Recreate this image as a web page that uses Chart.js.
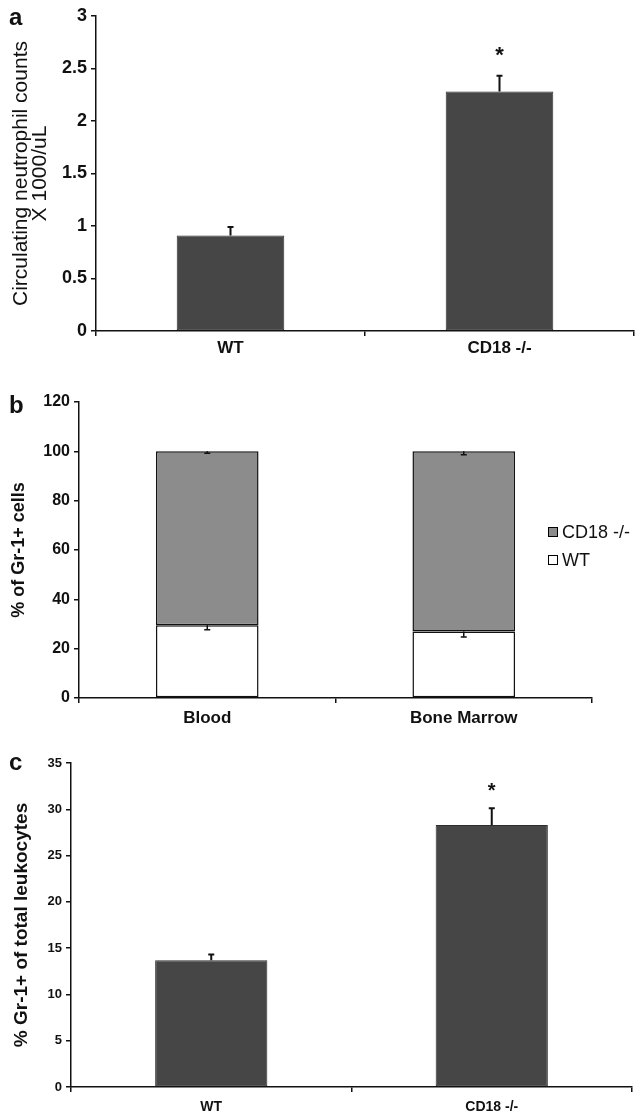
<!DOCTYPE html>
<html><head><meta charset="utf-8">
<script src="https://cdn.jsdelivr.net/npm/chart.js@4.4.1/dist/chart.umd.min.js"></script>
<style>
html,body{margin:0;padding:0;background:#fff;width:635px;height:1117px;overflow:hidden}
.p{position:absolute;left:0;width:635px}
canvas{display:block}
</style></head><body>
<div class="p" style="top:0;height:365px"><canvas id="ca" width="635" height="365"></canvas></div>
<div class="p" style="top:365px;height:380px"><canvas id="cb" width="635" height="380"></canvas></div>
<div class="p" style="top:745px;height:372px"><canvas id="cc" width="635" height="372"></canvas></div>
<script>
// ---- Panel a: circulating neutrophil counts (x1000/uL)
const aCategories = ['WT', 'CD18 -/-'];
const aValues = [0.91, 2.28];
const aErrors = [0.08, 0.15];
const aSignificant = [false, true];
const aYTitle = ['Circulating neutrophil counts', 'X 1000/uL'];

// ---- Panel b: % of Gr-1+ cells (stacked)
const bCategories = ['Blood', 'Bone Marrow'];
const bWT = [29.5, 27];
const bWTErrors = [1.8, 2.3];
const bCD18 = [70.5, 73];
const bCD18Errors = [0.8, 1.4];
const bYTitle = '% of Gr-1+ cells';

// ---- Panel c: % Gr-1+ of total leukocytes
const cCategories = ['WT', 'CD18 -/-'];
const cValues = [13.7, 28.3];
const cErrors = [0.6, 1.8];
const cSignificant = [false, true];
const cYTitle = '% Gr-1+ of total leukocytes';

const FONT = "'Liberation Sans', Arial, Helvetica, sans-serif";
const INK = '#111';

const overlay = {
  id: 'overlay',
  afterDatasetsDraw(chart, args, o) {
    const ctx = chart.ctx, ys = chart.scales.y;
    ctx.save();
    chart.data.datasets.forEach((ds, di) => {
      if (!ds.errors) return;
      const meta = chart.getDatasetMeta(di);
      meta.data.forEach((bar, i) => {
        const len = ys.getPixelForValue(0) - ys.getPixelForValue(ds.errors[i]);
        const end = o.dir === 'down' ? bar.y + len : bar.y - len;
        ctx.strokeStyle = INK;
        ctx.lineWidth = o.errWidth || 2;
        ctx.beginPath();
        ctx.moveTo(bar.x, bar.y);
        ctx.lineTo(bar.x, end);
        ctx.moveTo(bar.x - o.cap, end);
        ctx.lineTo(bar.x + o.cap, end);
        ctx.stroke();
        if (ds.significant && ds.significant[i]) {
          ctx.fillStyle = INK;
          ctx.font = o.starFont;
          ctx.textAlign = 'center';
          ctx.textBaseline = 'middle';
          ctx.fillText('*', bar.x, end - o.starGap);
        }
      });
    });
    ctx.restore();
  },
  afterDraw(chart, args, o) {
    const ctx = chart.ctx;
    ctx.save();
    ctx.fillStyle = INK;
    ctx.font = 'bold 24px ' + FONT;
    ctx.textAlign = 'left';
    ctx.textBaseline = 'alphabetic';
    ctx.fillText(o.letter, o.letterX, o.letterY);
    if (o.legend) {
      const L = o.legend;
      const items = chart.data.datasets.map((d) => ({label: d.label, color: d.backgroundColor})).reverse();
      items.forEach((it, k) => {
        const cy = L.y + k * L.gap;
        ctx.fillStyle = it.color;
        ctx.fillRect(L.x, cy - 5, 10, 10);
        ctx.strokeStyle = '#000';
        ctx.lineWidth = 1;
        ctx.strokeRect(L.x + 0.5, cy - 4.5, 9, 9);
        ctx.fillStyle = INK;
        ctx.font = L.font;
        ctx.textBaseline = 'middle';
        ctx.fillText(it.label, L.x + 14, cy + 1);
      });
    }
    ctx.restore();
  }
};

function axes(p) {
  return {
    x: {
      stacked: !!p.stacked,
      afterFit: (s) => { s.height = p.xH; },
      grid: {display: true, drawOnChartArea: false, drawTicks: true, tickLength: 5, color: INK, lineWidth: 1.5, offset: true},
      border: {display: true, color: INK, width: 1.5},
      ticks: {color: INK, font: {family: FONT, size: p.xFont, weight: 'bold'}, padding: p.xPad, maxRotation: 0}
    },
    y: {
      stacked: !!p.stacked,
      min: p.min, max: p.max,
      afterFit: (s) => { s.width = p.yW; },
      grid: {display: true, drawOnChartArea: false, drawTicks: true, tickLength: 5, color: INK, lineWidth: 1.5},
      border: {display: true, color: INK, width: 1.5},
      ticks: {stepSize: p.step, color: INK, font: {family: FONT, size: p.yFont, weight: 'bold'}, padding: 4,
        callback: (v) => String(Math.round(v * 100) / 100)},
      title: {display: true, text: p.title, color: INK, font: {family: FONT, size: p.tFont, weight: p.tWeight, lineHeight: p.tLH}, padding: {top: p.tPad, bottom: 0}}
    }
  };
}

Chart.defaults.animation = false;

new Chart(document.getElementById('ca'), {
  type: 'bar',
  data: {labels: aCategories, datasets: [{
    label: 'Neutrophils', data: aValues, errors: aErrors, significant: aSignificant,
    backgroundColor: '#464646', borderColor: '#2e2e2e', borderWidth: 1, borderSkipped: false,
    barPercentage: 0.4, categoryPercentage: 1
  }]},
  options: {
    responsive: false, animation: false,
    layout: {padding: {left: 0, right: 1, top: 16, bottom: 0}},
    plugins: {legend: {display: false}, tooltip: {enabled: false},
      overlay: {letter: 'a', letterX: 9, letterY: 25, cap: 3, starFont: 'bold 22px ' + FONT, starGap: 20, dir: 'up'}},
    scales: axes({xH: 34, xFont: 17, xPad: 2, min: 0, max: 3, step: 0.5, yW: 96, yFont: 18,
      title: aYTitle, tFont: 21, tWeight: 'normal', tLH: 0.9, tPad: 12})
  },
  plugins: [overlay]
});

new Chart(document.getElementById('cb'), {
  type: 'bar',
  data: {labels: bCategories, datasets: [
    {label: 'WT', data: bWT, errors: bWTErrors, backgroundColor: '#ffffff', borderColor: '#111', borderWidth: 1.5, borderSkipped: false, barPercentage: 0.4, categoryPercentage: 1},
    {label: 'CD18 -/-', data: bCD18, errors: bCD18Errors, backgroundColor: '#8c8c8c', borderColor: '#111', borderWidth: 1.5, borderSkipped: false, barPercentage: 0.4, categoryPercentage: 1}
  ]},
  options: {
    responsive: false, animation: false,
    layout: {padding: {left: 0, right: 43, top: 37, bottom: 0}},
    plugins: {legend: {display: false}, tooltip: {enabled: false},
      overlay: {letter: 'b', letterX: 9, letterY: 48, cap: 3, errWidth: 1.5, dir: 'down',
        legend: {x: 548, y: 167, gap: 28, font: '18px ' + FONT}}},
    scales: axes({stacked: true, xH: 47, xFont: 17, xPad: 5, min: 0, max: 120, step: 20, yW: 79, yFont: 16,
      title: bYTitle, tFont: 18, tWeight: 'bold', tLH: 1.2, tPad: 8})
  },
  plugins: [overlay]
});

new Chart(document.getElementById('cc'), {
  type: 'bar',
  data: {labels: cCategories, datasets: [{
    label: 'Gr-1+', data: cValues, errors: cErrors, significant: cSignificant,
    backgroundColor: '#464646', borderColor: '#2e2e2e', borderWidth: 1, borderSkipped: false,
    barPercentage: 0.4, categoryPercentage: 1
  }]},
  options: {
    responsive: false, animation: false,
    layout: {padding: {left: 0, right: 3, top: 18, bottom: 0}},
    plugins: {legend: {display: false}, tooltip: {enabled: false},
      overlay: {letter: 'c', letterX: 9, letterY: 25, cap: 3, starFont: 'bold 20px ' + FONT, starGap: 17, dir: 'up'}},
    scales: axes({xH: 30, xFont: 14, xPad: 7, min: 0, max: 35, step: 5, yW: 71, yFont: 13,
      title: cYTitle, tFont: 19, tWeight: 'bold', tLH: 1.2, tPad: 10})
  },
  plugins: [overlay]
});
</script>
</body></html>
